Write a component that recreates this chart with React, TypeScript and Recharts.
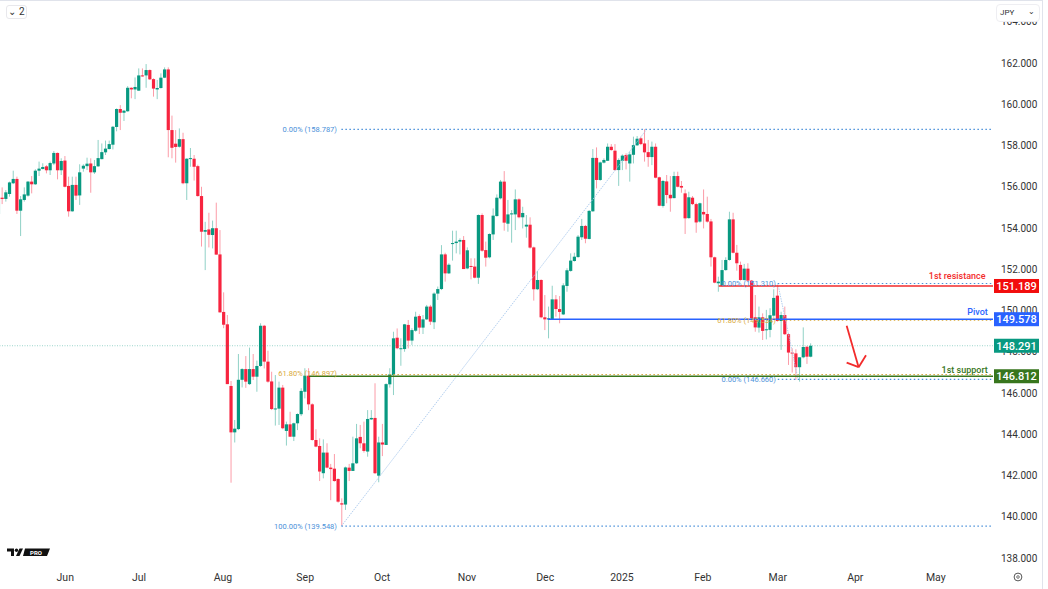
import { Bar, ComposedChart, ReferenceDot, ReferenceLine, XAxis, YAxis } from "recharts";

// USDJPY daily candles
const opens = [
  154.68,155.47,155.41,155.65,156.17,156.38,154.84,155.36,155.57,156.25,
  156.12,156.78,156.86,156.99,156.80,157.13,157.64,156.80,157.27,156.04,
  154.81,156.09,155.58,156.88,157.00,157.13,156.70,156.99,157.34,157.67,
  157.83,158.04,158.90,159.77,159.59,159.66,160.80,160.72,160.66,161.40,
  161.40,161.66,161.22,160.72,160.79,161.29,161.69,158.75,158.09,157.94,
  158.31,156.17,157.35,157.36,157.00,155.55,153.82,153.93,153.66,153.99,
  152.72,149.93,149.33,146.34,144.09,144.25,146.64,147.16,146.43,147.16,
  146.79,147.31,149.26,147.52,146.56,145.22,145.24,146.26,144.16,144.48,
  143.88,144.53,144.97,146.06,146.84,145.45,143.72,143.43,142.11,143.11,
  142.38,142.33,141.83,140.65,140.59,142.38,142.22,142.59,143.87,143.56,
  143.16,144.72,144.79,141.99,143.60,143.48,146.42,146.87,148.68,148.13,
  148.13,149.30,148.54,149.02,149.73,149.17,149.57,150.19,149.43,150.82,
  151.04,152.72,151.80,153.23,153.27,153.34,153.42,152.04,152.16,152.13,
  151.59,154.63,152.93,152.58,153.69,154.58,155.44,156.25,154.21,154.66,
  154.66,155.39,154.52,154.07,154.16,153.06,151.03,151.48,149.67,149.57,
  149.54,150.54,150.07,149.81,151.19,151.92,152.40,152.59,153.55,154.10,
  153.47,154.81,157.40,156.33,157.17,157.26,157.94,157.75,156.81,157.26,
  157.54,157.13,157.55,158.01,158.35,158.10,157.68,157.44,157.94,156.46,
  155.07,156.26,155.61,155.45,156.52,156.04,155.68,154.48,155.47,155.16,
  154.31,154.78,154.68,154.32,152.58,151.32,151.19,151.96,152.45,154.42,
  152.80,152.21,151.48,152.03,151.45,149.67,149.17,149.67,149.06,149.06,
  149.75,150.72,149.49,149.78,148.85,147.96,147.92,147.25,147.73,148.24,147.76,
];
const highs = [
  155.52,155.97,155.84,156.25,156.78,156.49,155.55,155.97,156.28,156.52,
  156.85,157.22,157.14,157.05,157.22,157.73,157.66,157.38,157.49,156.49,
  156.49,156.49,157.09,157.09,157.41,157.38,157.30,158.27,158.10,158.24,
  158.24,158.95,159.80,159.96,159.72,160.88,160.82,161.30,161.74,161.74,
  161.95,161.69,161.26,161.18,161.50,161.79,161.79,159.45,158.75,158.83,
  158.62,157.38,157.88,157.54,157.07,156.00,154.30,154.74,154.36,155.23,
  153.90,150.88,149.78,146.58,144.69,147.89,147.20,147.79,148.20,147.89,
  147.57,149.38,149.30,148.05,147.03,146.87,146.55,146.39,144.61,145.09,
  144.56,145.01,146.23,147.20,147.20,145.50,144.24,143.80,143.75,143.56,
  142.56,143.04,141.86,140.89,142.43,142.56,143.88,144.50,144.45,144.61,
  145.17,145.17,146.47,143.88,144.50,146.47,147.20,148.97,149.13,148.65,
  149.35,149.54,149.14,149.94,149.81,149.78,150.27,150.27,150.88,151.16,
  153.17,152.80,152.29,153.87,153.87,153.50,153.61,153.06,152.53,152.53,
  154.66,154.71,153.34,153.74,154.95,155.63,156.33,156.76,155.36,154.87,
  155.87,155.44,155.03,154.63,154.52,153.10,151.92,151.51,150.75,150.19,
  151.20,150.75,150.70,151.32,152.05,152.77,152.80,153.66,154.44,154.15,
  154.87,157.83,157.91,157.22,157.38,158.10,158.07,158.07,157.38,157.57,
  157.62,157.70,158.43,158.46,158.43,158.79,158.27,158.19,158.10,156.49,
  156.33,156.57,156.52,156.73,156.73,156.28,155.87,155.76,155.55,155.23,
  155.23,155.87,155.52,154.44,152.61,151.64,152.45,152.58,154.79,154.74,
  153.18,152.37,152.26,152.29,151.48,150.75,150.19,149.86,150.03,150.11,
  151.03,151.24,149.94,150.19,148.89,148.17,148.12,147.73,149.18,148.28,148.41,
];
const lows = [
  154.63,155.16,155.28,155.52,156.13,154.68,153.61,155.28,155.52,155.68,
  156.09,156.52,156.84,156.65,156.57,157.05,156.36,156.57,155.97,154.55,
  154.79,155.36,155.12,156.73,156.81,155.71,156.62,156.97,157.33,157.54,
  157.81,157.81,158.69,158.75,159.19,159.64,160.29,160.25,160.66,161.34,
  160.80,161.18,160.37,160.25,160.76,161.27,157.43,157.38,157.17,157.90,
  156.12,155.36,156.97,156.30,155.52,153.10,151.96,153.06,153.01,152.70,
  149.90,149.14,146.43,141.65,143.60,144.20,146.27,146.25,146.39,146.63,
  146.06,147.27,147.19,146.50,145.17,144.42,144.45,144.24,143.45,143.88,
  143.67,144.20,144.88,145.74,145.17,143.69,143.37,141.73,141.86,142.35,
  140.80,141.70,140.68,139.55,140.33,141.73,142.22,142.56,143.32,143.11,
  142.91,144.69,142.07,141.67,142.94,143.48,146.26,145.90,148.12,147.32,
  148.00,148.16,148.33,148.97,148.86,148.86,149.54,149.30,149.10,150.51,
  150.99,151.40,151.77,152.42,152.77,152.72,152.01,152.00,151.51,151.56,
  151.29,152.85,152.13,152.53,153.42,154.55,155.39,153.87,153.82,153.29,
  153.90,154.47,153.98,153.53,153.00,150.48,150.99,149.62,149.05,148.65,
  149.54,149.70,149.38,149.78,150.91,151.88,152.37,152.56,153.42,153.26,
  153.45,154.79,155.92,156.29,157.13,157.25,157.75,156.78,156.04,156.81,
  156.84,156.25,157.13,157.98,158.02,157.22,156.97,157.05,156.41,155.06,
  154.99,155.20,154.79,155.44,155.97,155.71,153.71,154.45,155.11,153.77,
  154.26,153.98,154.26,152.13,151.32,150.91,151.16,151.93,152.42,152.77,
  151.93,151.45,151.45,151.40,149.59,148.97,148.93,148.57,148.60,148.70,
  149.70,149.46,148.09,148.81,147.36,146.99,146.63,146.55,147.68,147.41,147.73,
];
const closes = [
  155.44,155.41,155.73,156.21,156.38,154.84,155.39,155.63,156.25,156.12,
  156.78,156.88,156.96,156.80,157.15,157.64,156.80,157.25,156.00,154.81,
  156.09,155.57,156.70,157.02,157.12,156.70,157.00,157.39,157.68,157.85,
  158.07,158.91,159.77,159.59,159.69,160.80,160.72,160.84,161.40,161.37,
  161.66,161.21,160.76,160.79,161.29,161.69,158.75,157.89,157.93,158.31,
  156.17,157.36,157.39,156.97,155.55,153.82,153.90,153.67,153.99,152.71,
  149.91,149.31,146.43,144.09,144.27,146.64,147.16,146.55,147.16,146.79,
  147.31,149.26,147.52,146.55,145.22,145.25,146.26,144.29,144.48,143.88,
  144.53,144.98,146.10,146.84,145.45,143.72,143.40,142.19,143.11,142.38,
  142.31,141.73,140.73,140.59,142.39,142.22,142.59,143.80,143.56,143.19,
  144.74,144.79,142.11,143.60,143.50,146.43,146.90,148.65,148.17,148.17,
  149.33,148.54,149.05,149.70,149.17,149.57,150.19,149.46,150.82,151.04,
  152.72,151.80,152.22,153.27,153.34,153.42,152.01,152.92,152.13,151.59,
  154.63,152.90,152.56,153.71,154.60,155.47,156.25,154.26,154.66,154.71,
  155.39,154.52,154.73,154.16,153.05,151.03,151.48,149.67,149.57,149.62,
  150.54,150.07,149.93,151.22,151.95,152.42,152.61,153.58,154.10,153.48,
  154.83,157.40,156.33,157.18,157.30,157.94,157.78,156.81,157.30,157.51,
  157.26,157.57,158.02,158.33,158.07,157.67,157.44,157.94,156.44,155.08,
  156.28,155.60,155.44,156.52,156.00,155.96,154.47,155.49,155.16,154.27,
  155.20,154.66,154.31,152.58,151.35,151.40,151.96,152.45,154.42,152.80,
  152.29,151.48,152.03,151.45,149.62,149.18,149.67,149.01,149.09,149.77,
  150.61,149.49,149.78,148.85,147.96,147.92,147.25,147.73,148.23,147.76,148.29,
];

const priceTicks = [138, 140, 142, 144, 146, 148, 150, 152, 154, 156, 158, 160, 162, 164];
const monthLabels = ["Jun", "Jul", "Aug", "Sep", "Oct", "Nov", "Dec", "2025", "Feb", "Mar", "Apr", "May"];
const monthBars = [18, 38, 60.7, 83, 103.8, 126.8, 148, 168.8, 190.7, 211, 232, 253.8];

// horizontal levels: [first bar, price]
const resistance = [195, 151.189];
const pivot = [148.7, 149.578];
const support = [84, 146.812];
const lastPrice = 148.291;

const bigFibBars = [92.8, 175.5];
const bigFibPrices = [139.548, 146.897, 158.787];
const smallFibBars = [211, 216.5];
const smallFibPrices = [146.66, 149.534, 151.31];

const BAR_FIRST = 0.325;
const BAR_LAST = 269.3;
const PRICE_RANGE = [137.61, 164.96];

const UP = "#089981";
const DOWN = "#f7243f";
const ARROW = "#f22b2b";
const FIB_BLUE = "#4a90d9";
const FIB_GOLD = "#d9a93a";
const FIB_DASH = "1.5 2.5";
const FONT = "Roboto, sans-serif";

const candles = opens.map((o, i) => ({
  bar: i,
  open: o,
  close: closes[i],
  high: highs[i],
  low: lows[i],
  range: [lows[i], highs[i]],
}));

function Candle(props: any) {
  const { x, y, width, height, payload } = props;
  const k = height / (payload.high - payload.low);
  const top = y + (payload.high - Math.max(payload.open, payload.close)) * k;
  const bottom = y + (payload.high - Math.min(payload.open, payload.close)) * k;
  const color = payload.close >= payload.open ? UP : DOWN;
  const mid = x + width / 2;
  return (
    <g>
      <line x1={mid} x2={mid} y1={y} y2={y + height} stroke={color} strokeOpacity={0.45} strokeWidth={1} />
      <rect x={mid - 1.6} y={top} width={3.2} height={Math.max(bottom - top, 1)} fill={color} />
    </g>
  );
}

const priceTag = (color: string, value: number) => (p: any) => (
  <g>
    <rect x={p.cx + 1} y={p.cy - 7} width={45} height={14} fill={color} />
    <text x={p.cx + 23.5} y={p.cy + 4} textAnchor="middle" fontSize={11} fontFamily={FONT} fontWeight={500} fill="#fff">
      {value.toFixed(3)}
    </text>
  </g>
);

const note = (text: string, color: string, size = 7.5, weight = 400) => (p: any) => (
  <text x={p.cx} y={p.cy + 3} textAnchor="end" fontSize={size} fontFamily={FONT} fontWeight={weight} fill={color}>
    {text}
  </text>
);

function level(from: number, to: number, price: number) {
  return [{ x: from, y: price }, { x: to, y: price }] as any;
}

function Logo() {
  return (
    <svg width={46} height={11} style={{ position: "absolute", left: 6, top: 547 }}>
      <path d="M1 1.5H8V9H5V4.5H1Z" fill="#111" />
      <circle cx={10.5} cy={3.2} r={1.7} fill="#111" />
      <path d="M13.5 1.5H17L13.5 9H10Z" fill="#111" />
      <path d="M19 1.5H44L41 9H17Z" fill="#111" />
      <text x={30} y={7.6} textAnchor="middle" fontSize={6} fontWeight={700} fontFamily={FONT} fill="#fff">PRO</text>
    </svg>
  );
}

export default function App() {
  return (
    <div style={{ position: "absolute", left: 0, top: 0, width: 1048, height: 589, background: "#fff", overflow: "hidden", fontFamily: FONT }}>
      <ComposedChart width={1043} height={589} data={candles} margin={{ top: 2, right: 0, bottom: 0, left: 0 }}>
        <XAxis
          dataKey="bar"
          type="number"
          domain={[BAR_FIRST, BAR_LAST]}
          allowDataOverflow
          ticks={monthBars}
          interval={0}
          tickFormatter={(v: number) => monthLabels[monthBars.indexOf(v)]}
          axisLine={false}
          tickLine={false}
          height={23}
          tick={{ fill: "#333", fontSize: 10.5, fontFamily: FONT }}
          tickMargin={2}
        />
        <YAxis
          orientation="right"
          domain={PRICE_RANGE}
          allowDataOverflow
          ticks={priceTicks}
          interval={0}
          tickFormatter={(v: number) => v.toFixed(3)}
          axisLine={false}
          tickLine={false}
          width={50}
          tick={{ fill: "#333", fontSize: 10, fontFamily: FONT }}
          tickMargin={2}
        />

        <ReferenceLine y={lastPrice} stroke={UP} strokeOpacity={0.4} strokeDasharray="1 1.5" />
        <ReferenceLine segment={[{ x: bigFibBars[0], y: bigFibPrices[0] }, { x: bigFibBars[1], y: bigFibPrices[2] }]} stroke="#a9c8ec" strokeWidth={0.9} strokeDasharray="1.5 1" />
        <ReferenceLine segment={[{ x: smallFibBars[0], y: smallFibPrices[2] }, { x: smallFibBars[1], y: smallFibPrices[0] }]} stroke="#a9c8ec" strokeWidth={0.9} strokeDasharray="1.5 1" />

        <Bar dataKey="range" barSize={3} shape={Candle} isAnimationActive={false} />

        <ReferenceLine segment={level(bigFibBars[0], BAR_LAST, bigFibPrices[2])} stroke={FIB_BLUE} strokeWidth={1.2} strokeDasharray={FIB_DASH} />
        <ReferenceLine segment={level(bigFibBars[0], BAR_LAST, bigFibPrices[0])} stroke={FIB_BLUE} strokeWidth={1.2} strokeDasharray={FIB_DASH} />
        <ReferenceLine segment={level(bigFibBars[0], BAR_LAST, bigFibPrices[1])} stroke={FIB_GOLD} strokeWidth={1.2} strokeDasharray={FIB_DASH} />
        <ReferenceLine segment={level(smallFibBars[0], BAR_LAST, smallFibPrices[2])} stroke={FIB_BLUE} strokeWidth={1.2} strokeDasharray={FIB_DASH} />
        <ReferenceLine segment={level(smallFibBars[0], BAR_LAST, smallFibPrices[1])} stroke={FIB_GOLD} strokeWidth={1.2} strokeDasharray={FIB_DASH} />
        <ReferenceLine segment={level(smallFibBars[0], BAR_LAST, smallFibPrices[0])} stroke={FIB_BLUE} strokeWidth={1.2} strokeDasharray={FIB_DASH} />

        <ReferenceLine segment={level(resistance[0], BAR_LAST, resistance[1])} stroke={ARROW} strokeWidth={1.6} />
        <ReferenceLine segment={level(pivot[0], BAR_LAST, pivot[1])} stroke="#2962ff" strokeWidth={1.4} />
        <ReferenceLine segment={level(support[0], BAR_LAST, support[1])} stroke="#38761d" strokeWidth={1.4} />

        <ReferenceLine segment={[{ x: 229.66, y: 149.26 }, { x: 232.9, y: 147.25 }]} stroke={ARROW} strokeWidth={1.8} />
        <ReferenceLine segment={[{ x: 234.9, y: 147.83 }, { x: 232.9, y: 147.25 }]} stroke={ARROW} strokeWidth={1.8} />
        <ReferenceLine segment={[{ x: 229.66, y: 147.47 }, { x: 232.9, y: 147.25 }]} stroke={ARROW} strokeWidth={1.8} />

        <ReferenceDot x={91.6} y={158.787} r={0} ifOverflow="visible" shape={note("0.00% (158.787)", FIB_BLUE)} />
        <ReferenceDot x={91.6} y={139.548} r={0} ifOverflow="visible" shape={note("100.00% (139.548)", FIB_BLUE)} />
        <ReferenceDot x={91.6} y={146.95} r={0} ifOverflow="visible" shape={note("61.80% (146.897)", FIB_GOLD)} />
        <ReferenceDot x={210.5} y={151.31} r={0} ifOverflow="visible" shape={note("0.00% (151.310)", FIB_BLUE)} />
        <ReferenceDot x={210.5} y={149.534} r={0} ifOverflow="visible" shape={note("61.80% (149.534)", FIB_GOLD)} />
        <ReferenceDot x={210.5} y={146.66} r={0} ifOverflow="visible" shape={note("0.00% (146.660)", FIB_BLUE)} />

        <ReferenceDot x={267.3} y={151.66} r={0} ifOverflow="visible" shape={note("1st resistance", ARROW, 9, 500)} />
        <ReferenceDot x={267.9} y={149.94} r={0} ifOverflow="visible" shape={note("Pivot", "#2962ff", 9, 500)} />
        <ReferenceDot x={267.9} y={147.12} r={0} ifOverflow="visible" shape={note("1st support", "#38761d", 9, 500)} />
      </ComposedChart>

      {/* second layer so the price tags sit on top of the axis ticks */}
      <div style={{ position: "absolute", left: 0, top: 0 }}>
        <ComposedChart width={1043} height={589} data={candles} margin={{ top: 2, right: 50, bottom: 23, left: 0 }}>
          <XAxis dataKey="bar" type="number" domain={[BAR_FIRST, BAR_LAST]} allowDataOverflow hide />
          <YAxis domain={PRICE_RANGE} allowDataOverflow hide />
          <ReferenceDot x={BAR_LAST} y={resistance[1]} r={0} ifOverflow="visible" shape={priceTag("#f20d0d", resistance[1])} />
          <ReferenceDot x={BAR_LAST} y={pivot[1]} r={0} ifOverflow="visible" shape={priceTag("#2962ff", pivot[1])} />
          <ReferenceDot x={BAR_LAST} y={lastPrice} r={0} ifOverflow="visible" shape={priceTag(UP, lastPrice)} />
          <ReferenceDot x={BAR_LAST} y={support[1]} r={0} ifOverflow="visible" shape={priceTag("#38761d", support[1])} />
        </ComposedChart>
      </div>

      <div style={{ position: "absolute", left: 0, top: 0, width: 1042, height: 1, background: "#e0e3eb" }} />
      <div style={{ position: "absolute", left: 1042, top: 0, width: 1, height: 589, background: "#e0e3eb" }} />

      <div style={{ position: "absolute", left: 6, top: 5, width: 19, height: 12, border: "1px solid #e8e8ec", borderRadius: 3, fontSize: 10, lineHeight: "12px", textAlign: "center", color: "#333", background: "#fff" }}>
        ⌄ 2
      </div>
      <div style={{ position: "absolute", left: 996, top: 4, width: 44, height: 18, border: "1px solid #eeeef2", borderRadius: 4, background: "#fff", fontSize: 8, lineHeight: "16px", color: "#333", boxSizing: "border-box", paddingLeft: 3 }}>
        JPY<span style={{ position: "absolute", right: 4, top: -1 }}>⌄</span>
      </div>

      <Logo />

      <svg width={14} height={14} style={{ position: "absolute", left: 1011, top: 570 }}>
        <circle cx={7} cy={7} r={3.9} fill="none" stroke="#555" strokeWidth={1} />
        <circle cx={7} cy={7} r={1.3} fill="none" stroke="#555" strokeWidth={0.8} />
      </svg>
    </div>
  );
}
